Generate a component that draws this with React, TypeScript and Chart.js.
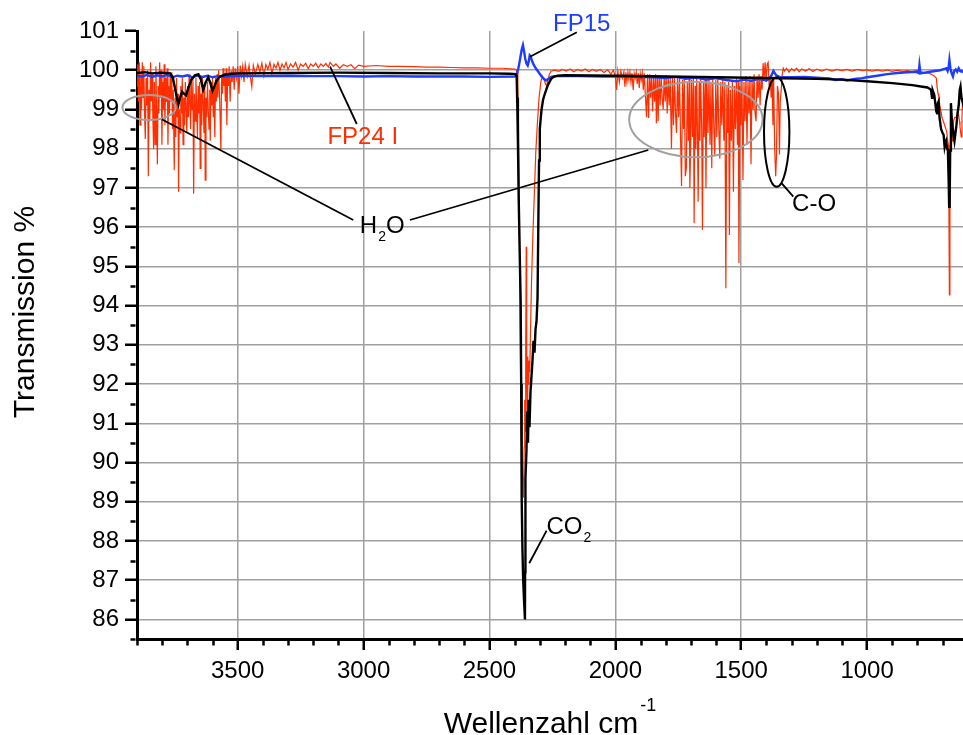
import React, { useEffect, useRef } from "react";
import { Chart, registerables } from "chart.js";

Chart.register(...registerables);

// ---------- data: [wavenumber (cm^-1), transmission (%)] ----------
const blackLeft: [number, number][] = [
  [3900, 99.93], [3870, 99.95], [3840, 99.92], [3810, 99.94], [3785, 99.93], [3768, 99.92],
  [3758, 99.82], [3748, 99.5], [3740, 99.25], [3735, 99.14], [3729, 99.3], [3721, 99.45],
  [3713, 99.4], [3705, 99.36], [3696, 99.55], [3684, 99.76], [3670, 99.87], [3656, 99.9],
  [3647, 99.78], [3637, 99.5], [3628, 99.68], [3617, 99.82], [3608, 99.66], [3600, 99.48],
  [3592, 99.6], [3585, 99.72], [3572, 99.83], [3550, 99.89], [3525, 99.91], [3500, 99.92],
];
const blackMid: [number, number][] = [
  [3300, 99.93], [3100, 99.94], [2900, 99.93], [2700, 99.92], [2500, 99.92], [2420, 99.91],
  [2396, 99.9], [2392, 99.85], [2390, 99.3], [2387, 98.2], [2384, 96.8], [2380, 95.4],
  [2376, 94.1], [2374, 92.0], [2372, 89.1], [2369, 87.8], [2366, 87.0], [2362, 86.4],
  [2359, 86.0], [2358.5, 87.2], [2358, 89.0], [2356, 89.6], [2353, 90.3], [2350, 91.3],
  [2347, 90.5], [2344, 91.6], [2341, 90.9], [2337, 91.8], [2333, 92.2], [2329, 92.6],
  [2325, 93.1], [2321, 92.8], [2317, 93.4], [2313, 93.6], [2309, 94.2], [2306, 96.0],
  [2303, 97.7], [2300, 98.5], [2296, 98.8], [2293, 99.0], [2287, 99.25], [2280, 99.4],
  [2272, 99.55], [2265, 99.66], [2255, 99.78], [2245, 99.83], [2230, 99.86], [2200, 99.87],
];
const blackRight: [number, number][] = [
  [2000, 99.86], [1800, 99.84], [1600, 99.82], [1400, 99.8], [1200, 99.78], [1100, 99.76],
  [1000, 99.72], [900, 99.67], [820, 99.62], [780, 99.58], [760, 99.56], [752, 99.53],
  [746, 99.5], [742, 99.3], [739, 99.48], [733, 99.37], [728, 99.1], [725, 98.95],
  [722, 98.9], [719, 99.15], [716, 99.2], [712, 98.78], [706, 98.5], [700, 98.4],
  [696, 98.35], [692, 98.05], [689, 98.15], [686, 98.2], [682, 98.0], [679, 97.95],
  [676, 97.2], [674, 96.52], [672, 96.6], [670, 97.95], [667, 99.16], [663, 98.7],
  [659, 98.48], [656, 98.3], [653, 98.19], [649, 98.4], [645, 98.6], [641, 98.9],
  [636, 99.1], [632, 99.5], [629, 99.58], [625, 99.3], [621, 99.2], [619, 99.3],
];

const fp15Left: [number, number][] = [
  [3900, 99.86], [3880, 99.84], [3860, 99.88], [3840, 99.83], [3820, 99.87], [3800, 99.84],
  [3780, 99.88], [3760, 99.82], [3740, 99.86], [3720, 99.84], [3700, 99.87], [3680, 99.82],
  [3660, 99.86], [3640, 99.83], [3620, 99.86], [3600, 99.82], [3580, 99.85], [3560, 99.84],
  [3500, 99.86], [3400, 99.85], [3300, 99.86], [3200, 99.85], [3100, 99.85], [3000, 99.84],
  [2900, 99.85], [2800, 99.84], [2700, 99.84], [2600, 99.84], [2500, 99.83], [2400, 99.84],
];
const fp15Mid: [number, number][] = [
  [2394, 99.86], [2389, 99.95], [2384, 100.08], [2378, 100.3], [2372, 100.52], [2367, 100.64],
  [2363, 100.5], [2358, 100.3], [2353, 100.17], [2348, 100.12], [2344, 100.22], [2340, 100.38],
  [2336, 100.35], [2331, 100.24], [2325, 100.15], [2316, 100.05], [2306, 99.96], [2295, 99.86],
  [2284, 99.78], [2275, 99.74], [2266, 99.78], [2255, 99.83], [2240, 99.85],
];
const fp15Right: [number, number][] = [
  [2150, 99.85], [2050, 99.84], [1950, 99.84], [1850, 99.82], [1800, 99.8], [1760, 99.83],
  [1720, 99.78], [1680, 99.81], [1640, 99.76], [1600, 99.8], [1560, 99.75], [1520, 99.72],
  [1490, 99.76], [1460, 99.73], [1430, 99.78], [1400, 99.74], [1385, 99.8], [1372, 99.98],
  [1362, 99.88], [1345, 99.82], [1300, 99.82], [1250, 99.83], [1200, 99.81], [1150, 99.79],
  [1125, 99.75], [1100, 99.77], [1080, 99.74], [1050, 99.78], [1020, 99.8], [1000, 99.82],
  [960, 99.86], [920, 99.9], [880, 99.93], [840, 99.95], [805, 99.96], [795, 99.93],
  [792, 100.13], [788, 99.92], [770, 99.94], [750, 99.96], [730, 99.98], [710, 100.0],
  [695, 100.03], [685, 100.05], [680, 99.98], [676, 100.08], [673, 100.26], [669, 100.05],
  [664, 99.92], [659, 99.84], [654, 99.98], [648, 100.02], [642, 99.96], [636, 100.05],
  [630, 99.98], [624, 99.96], [619, 100.0],
];

const fp24OH: [number, number][] = [
  [3900, 99.6], [3897, 100.15], [3894, 99.2], [3891, 100.2], [3888, 98.6], [3885, 99.9],
  [3882, 99.0], [3879, 100.2], [3876, 99.3], [3873, 100.1], [3870, 98.9], [3867, 98.25],
  [3864, 99.8], [3861, 99.1], [3858, 100.0], [3855, 97.3], [3852, 99.5], [3849, 98.7],
  [3846, 100.2], [3843, 99.2], [3840, 99.9], [3837, 98.8], [3834, 98.0], [3831, 99.7],
  [3828, 98.1], [3825, 100.1], [3822, 99.0], [3819, 97.6], [3816, 99.6], [3813, 98.9],
  [3810, 100.2], [3807, 99.3], [3804, 100.0], [3801, 98.1], [3798, 99.7], [3795, 99.0],
  [3792, 100.15], [3789, 98.6], [3786, 99.8], [3783, 99.2], [3780, 100.05], [3777, 98.1],
  [3774, 99.6], [3771, 98.9], [3768, 99.9], [3765, 99.2], [3762, 99.95], [3759, 98.5],
  [3756, 99.5], [3752, 97.45], [3749, 99.3], [3746, 98.3], [3743, 99.8], [3740, 98.8],
  [3737, 99.4], [3735, 96.9], [3732, 99.0], [3729, 98.4], [3726, 99.6], [3723, 98.9],
  [3720, 99.8], [3717, 98.1], [3714, 99.3], [3711, 98.6], [3708, 99.7], [3705, 99.0],
  [3702, 98.4], [3699, 99.6], [3696, 98.8], [3693, 99.9], [3690, 99.1], [3687, 98.5],
  [3684, 99.7], [3681, 99.0], [3678, 99.8], [3675, 96.85], [3672, 99.4], [3669, 98.7],
  [3666, 99.8], [3663, 99.1], [3660, 98.3], [3657, 99.6], [3654, 98.9], [3651, 99.7],
  [3649, 97.5], [3646, 99.4], [3643, 98.6], [3640, 99.8], [3637, 99.2], [3634, 98.4],
  [3631, 99.6], [3629, 97.2], [3626, 99.3], [3623, 98.8], [3620, 99.7], [3617, 99.0],
  [3614, 98.5], [3611, 99.5], [3609, 98.2], [3606, 99.7], [3603, 99.1], [3600, 99.8],
  [3597, 98.8], [3594, 99.6], [3591, 98.3], [3588, 99.8], [3585, 99.2], [3582, 99.9],
  [3579, 99.3], [3576, 100.0], [3573, 99.5], [3570, 98.9], [3567, 97.95], [3564, 99.8],
  [3561, 99.4], [3558, 100.05], [3555, 99.6], [3552, 99.9], [3549, 99.2], [3546, 100.05],
  [3543, 98.6], [3540, 99.9],
];
const fp24Flat: [number, number][] = [
  [3537, 99.6], [3534, 100.1], [3530, 99.2], [3526, 100.0], [3522, 99.7], [3518, 100.1],
  [3514, 99.5], [3510, 100.05], [3505, 99.8], [3500, 100.1], [3495, 99.4], [3490, 100.12],
  [3485, 99.85], [3480, 100.1], [3475, 99.7], [3470, 100.15], [3462, 99.85], [3455, 100.12],
  [3449, 99.8], [3444, 99.58], [3438, 100.12], [3430, 99.9], [3420, 100.15], [3412, 99.95],
  [3404, 100.18], [3396, 99.85], [3388, 100.15], [3380, 100.02], [3372, 100.2], [3364, 99.92],
  [3356, 100.15], [3348, 100.05], [3340, 100.2], [3332, 100.0], [3324, 100.16], [3316, 100.06],
  [3308, 100.2], [3300, 100.02], [3290, 100.16], [3280, 100.08], [3270, 100.2], [3260, 100.0],
  [3250, 100.16], [3240, 100.1], [3230, 100.18], [3220, 100.04], [3210, 100.16], [3200, 100.1],
  [3190, 100.18], [3180, 100.06], [3170, 100.16], [3160, 100.1], [3150, 100.17], [3140, 100.08],
  [3133, 100.2], [3120, 100.1], [3110, 100.16], [3095, 100.05], [3080, 100.14], [3065, 100.1],
  [3050, 100.14], [3035, 100.04], [3020, 100.13], [3000, 100.1], [2950, 100.12], [2900, 100.1],
  [2850, 100.1], [2800, 100.09], [2750, 100.08], [2700, 100.08], [2650, 100.07], [2600, 100.06],
  [2550, 100.06], [2500, 100.05], [2450, 100.05], [2400, 100.03],
];
const fp24CO2: [number, number][] = [
  [2394, 100.02], [2390, 99.95], [2387, 99.5], [2384, 98.3], [2381, 96.2], [2378, 93.5],
  [2375, 91.4], [2372, 90.2], [2368, 89.5], [2365, 89.1], [2362, 90.4], [2360, 91.6],
  [2358, 90.8], [2356, 92.8], [2354, 95.5], [2352, 92.4], [2350, 91.2], [2348, 92.7],
  [2346, 92.0], [2343, 92.6], [2340, 92.3], [2337, 93.3], [2333, 94.6], [2328, 95.7],
  [2322, 96.8], [2316, 97.9], [2310, 98.6], [2303, 99.3], [2296, 99.7], [2290, 99.85],
  [2284, 99.78], [2278, 99.66], [2273, 99.6], [2268, 99.74], [2262, 99.9], [2255, 99.98],
  [2240, 100.0], [2225, 99.97], [2210, 100.02], [2195, 99.98], [2180, 100.03], [2165, 99.96],
  [2150, 100.02], [2135, 99.98], [2120, 100.03], [2105, 99.96], [2090, 100.02], [2075, 99.97],
  [2060, 100.02], [2045, 99.94], [2030, 100.01], [2018, 99.9], [2008, 100.0], [2000, 99.85],
  [1995, 99.5], [1990, 99.98], [1984, 99.7], [1978, 99.98], [1972, 99.8], [1966, 99.96],
];
const fp24H2O: [number, number][] = [
  [1962, 99.58], [1958, 99.95], [1954, 99.7], [1950, 99.95], [1946, 99.75], [1942, 99.95],
  [1938, 99.7], [1934, 99.93], [1929, 99.5], [1925, 99.92], [1921, 99.8], [1917, 99.95],
  [1913, 99.65], [1909, 99.93], [1905, 99.55], [1901, 99.92], [1897, 99.75], [1893, 99.93],
  [1889, 99.5], [1885, 99.92], [1881, 99.4], [1876, 98.8], [1872, 99.9], [1868, 98.78],
  [1864, 99.9], [1860, 99.3], [1856, 99.88], [1852, 98.95], [1848, 99.85], [1844, 99.2],
  [1840, 99.9], [1837, 98.65], [1833, 99.85], [1830, 98.7], [1826, 99.88], [1822, 99.1],
  [1818, 99.85], [1814, 99.3], [1810, 99.0], [1806, 99.85], [1802, 99.2], [1798, 99.88],
  [1794, 98.9], [1790, 99.85], [1786, 99.1], [1782, 99.8], [1777, 98.0], [1773, 99.8],
  [1769, 98.6], [1765, 99.85], [1761, 98.9], [1757, 98.4], [1753, 99.8], [1749, 98.8],
  [1745, 99.85], [1741, 98.3], [1737, 97.05], [1733, 99.75], [1729, 98.5], [1726, 99.8],
  [1722, 97.3], [1718, 97.5], [1714, 99.7], [1710, 98.2], [1707, 99.8], [1704, 97.0],
  [1700, 98.35], [1697, 99.75], [1693, 98.3], [1690, 99.8], [1687, 96.1], [1683, 99.6],
  [1680, 98.0], [1677, 99.8], [1674, 98.6], [1671, 96.65], [1667, 99.7], [1664, 98.2],
  [1661, 99.8], [1657, 98.5], [1654, 95.93], [1650, 99.7], [1647, 98.3], [1643, 99.8],
  [1640, 97.0], [1636, 99.75], [1632, 98.4], [1628, 99.8], [1624, 98.1], [1620, 99.7],
  [1617, 97.5], [1613, 99.8], [1609, 98.6], [1605, 97.83], [1601, 99.75], [1597, 98.3],
  [1593, 99.8], [1589, 98.5], [1585, 97.75], [1581, 99.7], [1577, 98.6], [1573, 99.8],
  [1569, 98.2], [1565, 99.7], [1561, 94.44], [1557, 99.6], [1553, 98.4], [1550, 99.7],
  [1547, 95.8], [1543, 99.5], [1539, 98.2], [1535, 99.75], [1531, 96.9], [1527, 99.6],
  [1523, 98.5], [1519, 99.8], [1515, 98.1], [1512, 99.7], [1509, 95.08], [1505, 99.6],
  [1501, 98.6], [1497, 99.8], [1493, 97.2], [1489, 99.7], [1485, 98.7], [1481, 99.85],
  [1477, 98.1], [1473, 99.7], [1469, 98.9], [1465, 99.85], [1461, 97.6], [1457, 99.8],
  [1453, 99.0], [1449, 99.9], [1445, 98.9], [1441, 98.7], [1437, 99.85], [1433, 99.3],
  [1429, 99.9], [1425, 99.1], [1421, 99.85], [1417, 99.5], [1413, 100.18], [1409, 99.8],
  [1405, 100.2], [1401, 99.7], [1397, 100.15], [1393, 100.2], [1389, 99.6], [1385, 99.85],
  [1381, 99.3], [1377, 99.8], [1374, 98.6], [1371, 99.75], [1367, 98.0], [1363, 97.3],
  [1360, 97.8], [1356, 99.6], [1352, 99.4], [1348, 97.85], [1345, 99.2], [1341, 99.5],
  [1337, 99.9], [1333, 100.05],
];
const fp24Tail: [number, number][] = [
  [1328, 99.98], [1320, 100.05], [1310, 99.95], [1300, 100.04], [1290, 99.98], [1280, 100.05],
  [1270, 99.96], [1260, 100.03], [1245, 99.98], [1230, 100.04], [1215, 99.97], [1200, 100.03],
  [1180, 99.98], [1160, 100.03], [1140, 99.98], [1120, 100.02], [1100, 99.99], [1080, 100.02],
  [1060, 99.98], [1040, 100.02], [1020, 99.99], [1000, 100.01], [980, 99.98], [960, 100.01],
  [940, 99.98], [920, 100.01], [900, 99.97], [880, 100.0], [860, 99.97], [840, 99.99],
  [820, 99.96], [800, 100.0], [790, 99.95], [780, 99.96], [772, 99.92], [760, 99.93],
  [752, 99.92], [740, 99.88], [732, 99.85], [725, 99.8], [722, 99.58], [718, 99.4],
  [715, 99.33], [711, 99.1], [708, 98.99], [705, 98.9], [702, 98.78], [697, 98.7],
  [692, 98.6], [688, 98.52], [684, 98.45], [680, 98.22], [677, 98.1], [675, 96.5],
  [673, 94.27], [671, 96.8], [669, 98.2], [665, 98.3], [662, 98.2], [659, 98.5],
  [656, 98.73], [651, 98.8], [646, 98.8], [641, 98.85], [637, 98.9], [633, 98.7],
  [631, 98.56], [628, 98.4], [626, 98.3], [623, 98.8], [621, 99.16], [619, 99.0],
];

// ---------- axes ----------
const xMajorTicks = [3500, 3000, 2500, 2000, 1500, 1000];
const xMinorTicks = [3900, 3800, 3700, 3600, 3400, 3300, 3200, 3100, 2900, 2800, 2700, 2600,
  2400, 2300, 2200, 2100, 1900, 1800, 1700, 1600, 1400, 1300, 1200, 1100, 900, 800, 700];
const yMajorTicks = [86, 87, 88, 89, 90, 91, 92, 93, 94, 95, 96, 97, 98, 99, 100, 101];
const yMinorTicks = [85.5, 86.5, 87.5, 88.5, 89.5, 90.5, 91.5, 92.5, 93.5, 94.5, 95.5, 96.5,
  97.5, 98.5, 99.5, 100.5];

// ---------- annotations (in data coordinates) ----------
const BLUE = "#1e3cff";
const RED = "#ff2e00";
const GRAY = "#a0a0a0";

const ellipses = [
  { wn: 3852, v: 99.05, dwn: 106, dv: 0.32, color: GRAY },
  { wn: 1680, v: 98.744, dwn: 265, dv: 0.964, color: GRAY },
  { wn: 1359, v: 98.425, dwn: 50.4, dv: 1.394, color: "#000" },
];
const leaders: [number, number, number, number][] = [
  [3802, 98.749, 3041, 96.182],
  [2816, 96.182, 1869, 97.966],
  [2153, 100.967, 2339, 100.345],
  [3027, 98.629, 3133, 100.09],
  [1339, 97.117, 1293, 96.776],
  [2273, 88.261, 2342, 87.43],
];
const labels = [
  { wn: 2247.6, v: 101.008, color: BLUE, parts: [["FP15", ""]] },
  { wn: 3143.7, v: 98.119, color: RED, parts: [["FP24 I", ""]] },
  { wn: 3015, v: 95.858, color: "#000", parts: [["H", ""], ["2", "sub"], ["O", ""]] },
  { wn: 1298, v: 96.419, color: "#000", parts: [["C-O", ""]] },
  { wn: 2273.4, v: 88.177, color: "#000", parts: [["CO", ""], ["2", "sub"]] },
];

const FONT = '"Liberation Sans", Arial, Helvetica, sans-serif';

const toXY = (arr: [number, number][]) => arr.map(([x, y]) => ({ x, y }));

const decorPlugin = {
  id: "decor",
  afterDraw(chart: any) {
    const { ctx, chartArea } = chart;
    const xs = chart.scales.x;
    const ys = chart.scales.y;
    const X = (w: number) => xs.getPixelForValue(w);
    const Y = (v: number) => ys.getPixelForValue(v);
    ctx.save();

    // minor ticks
    ctx.strokeStyle = "#000";
    ctx.lineWidth = 2.5;
    ctx.beginPath();
    for (const v of yMinorTicks) {
      const py = Math.round(Y(v)) + 0.5;
      ctx.moveTo(chartArea.left - 1.5, py);
      ctx.lineTo(chartArea.left - 6.5, py);
    }
    for (const w of xMinorTicks) {
      const px = Math.round(X(w)) + 0.5;
      ctx.moveTo(px, chartArea.bottom + 1.5);
      ctx.lineTo(px, chartArea.bottom + 6.5);
    }
    ctx.stroke();

    // ellipses
    for (const e of ellipses) {
      const cx = X(e.wn);
      const cy = Y(e.v);
      const rx = Math.abs(X(e.wn - e.dwn) - cx);
      const ry = Math.abs(Y(e.v - e.dv) - cy);
      ctx.beginPath();
      ctx.ellipse(cx, cy, rx, ry, 0, 0, Math.PI * 2);
      ctx.strokeStyle = e.color;
      ctx.lineWidth = 2;
      ctx.stroke();
    }

    // leader lines
    ctx.strokeStyle = "#000";
    ctx.lineWidth = 1.8;
    ctx.beginPath();
    for (const [w1, v1, w2, v2] of leaders) {
      ctx.moveTo(X(w1), Y(v1));
      ctx.lineTo(X(w2), Y(v2));
    }
    ctx.stroke();

    // labels
    ctx.textAlign = "left";
    ctx.textBaseline = "alphabetic";
    for (const l of labels) {
      let px = X(l.wn);
      const py = Y(l.v);
      ctx.fillStyle = l.color;
      for (const [t, kind] of l.parts) {
        if (kind === "sub") {
          ctx.font = `14px ${FONT}`;
          ctx.fillText(t, px + 1, py + 8.5);
          px += ctx.measureText(t).width + 1;
        } else {
          ctx.font = `24px ${FONT}`;
          ctx.fillText(t, px, py);
          px += ctx.measureText(t).width;
        }
      }
    }

    // axis titles
    ctx.fillStyle = "#000";
    ctx.font = `30px ${FONT}`;
    const main = "Wellenzahl cm";
    const mw = ctx.measureText(main).width;
    ctx.font = `18px ${FONT}`;
    const sup = "-1";
    const sw = ctx.measureText(sup).width;
    const cxTitle = (chartArea.left + chartArea.right) / 2;
    const start = cxTitle - (mw + sw + 2) / 2;
    ctx.font = `30px ${FONT}`;
    ctx.fillText(main, start, 733);
    ctx.font = `18px ${FONT}`;
    ctx.fillText(sup, start + mw + 2, 711);

    ctx.save();
    ctx.translate(34, 312);
    ctx.rotate(-Math.PI / 2);
    ctx.textAlign = "center";
    ctx.font = `30px ${FONT}`;
    ctx.fillText("Transmission %", 0, 0);
    ctx.restore();

    ctx.restore();
  },
};

export default function App() {
  const ref = useRef<HTMLCanvasElement | null>(null);

  useEffect(() => {
    if (!ref.current) return;
    const chart = new Chart(ref.current, {
      type: "line",
      data: {
        datasets: [
          {
            label: "black",
            data: toXY([...blackLeft, ...blackMid, ...blackRight]),
            borderColor: "#000",
            borderWidth: 2.4,
            pointRadius: 0,
            tension: 0,
            order: 0,
          },
          {
            label: "FP15",
            data: toXY([...fp15Left, ...fp15Mid, ...fp15Right]),
            borderColor: BLUE,
            borderWidth: 2.4,
            pointRadius: 0,
            tension: 0,
            order: 1,
          },
          {
            label: "FP24 I",
            data: toXY([...fp24OH, ...fp24Flat, ...fp24CO2, ...fp24H2O, ...fp24Tail]),
            borderColor: RED,
            borderWidth: 1.2,
            pointRadius: 0,
            tension: 0,
            order: 2,
          },
        ],
      },
      options: {
        animation: false,
        responsive: false,
        devicePixelRatio: 1,
        events: [],
        layout: { padding: { top: 31, left: 0, right: 0, bottom: 0 } },
        plugins: { legend: { display: false }, tooltip: { enabled: false } },
        scales: {
          x: {
            type: "linear",
            reverse: true,
            min: 619,
            max: 3900,
            afterBuildTicks: (s: any) => {
              s.ticks = xMajorTicks.map((v) => ({ value: v }));
            },
            afterFit: (s: any) => {
              s.height = 96;
            },
            grid: {
              color: GRAY,
              lineWidth: 1.5,
              tickColor: "#000",
              tickWidth: 2.5,
              tickLength: 11,
              drawTicks: true,
            },
            border: { color: "#000", width: 3 },
            ticks: {
              color: "#000",
              font: { family: FONT, size: 24 },
              padding: 7,
              maxRotation: 0,
              autoSkip: false,
              callback: (v: any) => String(v),
            },
          },
          y: {
            type: "linear",
            min: 85.5,
            max: 101,
            afterBuildTicks: (s: any) => {
              s.ticks = yMajorTicks.map((v) => ({ value: v }));
            },
            afterFit: (s: any) => {
              s.width = 137;
            },
            grid: {
              color: (c: any) => (c.tick && c.tick.value === 101 ? "rgba(0,0,0,0)" : GRAY),
              lineWidth: 1.5,
              tickColor: "#000",
              tickWidth: 2.5,
              tickLength: 12,
              drawTicks: true,
            },
            border: { color: "#000", width: 3 },
            ticks: {
              color: "#000",
              font: { family: FONT, size: 24 },
              padding: 6,
              autoSkip: false,
              callback: (v: any) => String(v),
            },
          },
        },
      },
      plugins: [decorPlugin],
    });
    return () => chart.destroy();
  }, []);

  return (
    <div style={{ position: "fixed", left: 0, top: 0, width: 963, height: 735, background: "#fff" }}>
      <canvas ref={ref} width={963} height={735} style={{ display: "block" }} />
    </div>
  );
}
